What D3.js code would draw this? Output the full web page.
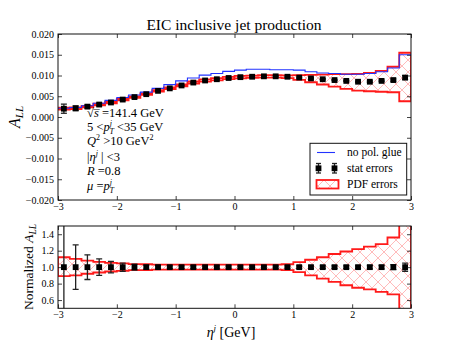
<!DOCTYPE html>
<html>
<head>
<meta charset="utf-8">
<script src="https://cdn.jsdelivr.net/npm/d3@7"></script>
<style>
  body { margin: 0; background: #fff; }
  text { font-family: "Liberation Serif", "DejaVu Serif", serif; fill: #000; }
</style>
</head>
<body>
<svg id="chart" width="457" height="343"></svg>
<script>
// bin centres of eta^j (bins of width 0.2)
const etaBins = [-2.9, -2.7, -2.5, -2.3, -2.1, -1.9, -1.7, -1.5, -1.3, -1.1,
                 -0.9, -0.7, -0.5, -0.3, -0.1, 0.1, 0.3, 0.5, 0.7, 0.9,
                 1.1, 1.3, 1.5, 1.7, 1.9, 2.1, 2.3, 2.5, 2.7, 2.9];
const binWidth = 0.2;

// A_LL central values (black squares)
const allCentral = [0.0020, 0.0021, 0.0025, 0.0030, 0.0035, 0.0042, 0.0048, 0.0055, 0.0063, 0.0069,
                    0.0076, 0.0083, 0.0088, 0.0091, 0.0094, 0.0096, 0.0097, 0.0098, 0.0098, 0.0097,
                    0.0095, 0.0093, 0.0091, 0.0089, 0.0087, 0.0085, 0.0085, 0.0087, 0.0089, 0.0095];

// "no pol. glue" curve
const allNoGlue = [0.0021, 0.0023, 0.0027, 0.0033, 0.0040, 0.0047, 0.0053, 0.0060, 0.0069, 0.0078,
                   0.0087, 0.0094, 0.0101, 0.0105, 0.0110, 0.0113, 0.0115, 0.0115, 0.0114, 0.0114,
                   0.0113, 0.0109, 0.0106, 0.0105, 0.0103, 0.0103, 0.0105, 0.0109, 0.0118, 0.0150];

// relative PDF error band (normalized panel: 1 + up, 1 - down)
const pdfUp   = [0.12, 0.10, 0.08, 0.065, 0.053, 0.045, 0.037, 0.035, 0.03, 0.03,
                 0.03, 0.03, 0.03, 0.03, 0.03, 0.03, 0.03, 0.03, 0.03, 0.035,
                 0.06, 0.09, 0.12, 0.16, 0.19, 0.22, 0.25, 0.28, 0.36, 0.63];
const pdfDown = [0.11, 0.10, 0.08, 0.065, 0.053, 0.045, 0.037, 0.035, 0.03, 0.03,
                 0.03, 0.03, 0.03, 0.03, 0.03, 0.03, 0.03, 0.03, 0.03, 0.035,
                 0.06, 0.10, 0.14, 0.18, 0.22, 0.25, 0.27, 0.30, 0.33, 0.60];

// relative statistical errors
const statErr = [0.55, 0.27, 0.15, 0.10, 0.07, 0.05, 0.035, 0.025, 0.02, 0.015,
                 0.015, 0.015, 0.015, 0.015, 0.015, 0.015, 0.015, 0.015, 0.015, 0.015,
                 0.015, 0.015, 0.015, 0.015, 0.015, 0.015, 0.02, 0.02, 0.03, 0.05];

const xTicks = [-3, -2, -1, 0, 1, 2, 3];
const yTicksTop = [-0.020, -0.015, -0.010, -0.005, 0.000, 0.005, 0.010, 0.015, 0.020];
const yTicksBottom = [0.6, 0.8, 1.0, 1.2, 1.4];

const svg = d3.select("#chart");
const left = 58, right = 411;
const top1 = 34, bot1 = 200;
const top2 = 226, bot2 = 308.3;

const x = d3.scaleLinear().domain([-3, 3]).range([left, right]);
const yTop = d3.scaleLinear().domain([-0.02, 0.02]).range([bot1, top1]);
const yBot = d3.scaleLinear().domain([0.5, 1.5]).range([bot2, top2]);

const red = "#ff1a1a", blue = "#2233ff", ink = "#111";

// hatch pattern ('x' hatch, light red)
const defs = svg.append("defs");
const pat = defs.append("pattern")
    .attr("id", "hatch")
    .attr("patternUnits", "userSpaceOnUse")
    .attr("width", 12).attr("height", 12);
pat.append("path")
    .attr("d", "M-1,-1 L13,13 M13,-1 L-1,13")
    .attr("stroke", "#ffaaaa").attr("stroke-width", 0.8).attr("fill", "none");

defs.append("clipPath").attr("id", "clipTop")
    .append("rect").attr("x", left).attr("y", top1).attr("width", right - left).attr("height", bot1 - top1);
defs.append("clipPath").attr("id", "clipBot")
    .append("rect").attr("x", left).attr("y", top2).attr("width", right - left).attr("height", bot2 - top2);

// step helpers
function stepPoints(vals) {
    const pts = [];
    etaBins.forEach((c, i) => {
        pts.push([c - binWidth / 2, vals[i]]);
        pts.push([c + binWidth / 2, vals[i]]);
    });
    return pts;
}

function drawPanel(g, yScale, upper, lower, clipId) {
    const gc = g.append("g").attr("clip-path", `url(#${clipId})`);
    const line = d3.line().x(d => x(d[0])).y(d => yScale(d[1]));
    const bandPts = stepPoints(upper).concat(stepPoints(lower).reverse());
    gc.append("path")
        .attr("d", line(bandPts) + "Z")
        .attr("fill", "url(#hatch)")
        .attr("stroke", red).attr("stroke-width", 1.8)
        .attr("stroke-linejoin", "miter");
    return gc;
}

function drawPoints(gc, yScale, vals, errs) {
    gc.selectAll(".err").data(etaBins).enter().append("g")
        .each(function (c, i) {
            const gg = d3.select(this);
            const lo = yScale(vals[i] - errs[i]), hi = yScale(vals[i] + errs[i]);
            gg.append("line").attr("x1", x(c)).attr("x2", x(c)).attr("y1", lo).attr("y2", hi)
                .attr("stroke", "#222").attr("stroke-width", 1.3);
            [lo, hi].forEach(yy => gg.append("line")
                .attr("x1", x(c) - 3).attr("x2", x(c) + 3).attr("y1", yy).attr("y2", yy)
                .attr("stroke", "#222").attr("stroke-width", 1.3));
        });
    gc.selectAll(".pt").data(etaBins).enter().append("rect")
        .attr("x", c => x(c) - 2.9).attr("width", 5.8)
        .attr("y", (c, i) => yScale(vals[i]) - 2.9).attr("height", 5.8)
        .attr("fill", "#000");
}

function drawAxes(g, yScale, yTicks, yFmt, yT, yB) {
    const ax = g.append("g");
    ax.append("g").attr("transform", `translate(0,${yB})`)
        .call(d3.axisBottom(x).tickValues(xTicks).tickSize(-4).tickPadding(3).tickFormat(d3.format("d")));
    ax.append("g").attr("transform", `translate(0,${yT})`)
        .call(d3.axisTop(x).tickValues(xTicks).tickSize(-4).tickFormat(""));
    ax.append("g").attr("transform", `translate(${left},0)`)
        .call(d3.axisLeft(yScale).tickValues(yTicks).tickSize(-4).tickPadding(4).tickFormat(yFmt));
    ax.append("g").attr("transform", `translate(${right},0)`)
        .call(d3.axisRight(yScale).tickValues(yTicks).tickSize(-4).tickFormat(""));
    ax.selectAll(".domain").remove();
    ax.selectAll(".tick line").attr("stroke", ink).attr("stroke-width", 0.8);
    ax.selectAll(".tick text").attr("font-size", 10).attr("font-family", "Liberation Serif, serif").attr("fill", "#000");
    g.append("rect").attr("x", left).attr("y", yT).attr("width", right - left).attr("height", yB - yT)
        .attr("fill", "none").attr("stroke", ink).attr("stroke-width", 1);
}

// ---- top panel
const gTop = svg.append("g");
const upTop = allCentral.map((v, i) => v * (1 + pdfUp[i]));
const loTop = allCentral.map((v, i) => v * (1 - pdfDown[i]));
const gcTop = drawPanel(gTop, yTop, upTop, loTop, "clipTop");
gcTop.append("path")
    .attr("d", d3.line().x(d => x(d[0])).y(d => yTop(d[1]))(stepPoints(allNoGlue)))
    .attr("fill", "none").attr("stroke", blue).attr("stroke-width", 1.1);
drawPoints(gcTop, yTop, allCentral, allCentral.map((v, i) => v * statErr[i]));
drawAxes(gTop, yTop, yTicksTop, d3.format(".3f"), top1, bot1);

// ---- bottom panel
const gBot = svg.append("g");
const ones = etaBins.map(() => 1);
const gcBot = drawPanel(gBot, yBot, pdfUp.map(u => 1 + u), pdfDown.map(d => 1 - d), "clipBot");
drawPoints(gcBot, yBot, ones, statErr);
drawAxes(gBot, yBot, yTicksBottom, d3.format(".1f"), top2, bot2);

// ---- title and labels
svg.append("text").attr("x", 234).attr("y", 30).attr("text-anchor", "middle")
    .attr("font-size", 15.5).text("EIC inclusive jet production");

const yl1 = svg.append("text").attr("transform", "translate(20,117) rotate(-90)")
    .attr("text-anchor", "middle").attr("font-size", 16);
yl1.append("tspan").attr("font-style", "italic").text("A");
yl1.append("tspan").attr("font-style", "italic").attr("font-size", 11).attr("dy", 3).text("LL");

const yl2 = svg.append("text").attr("transform", "translate(33,267) rotate(-90)")
    .attr("text-anchor", "middle").attr("font-size", 13.5);
yl2.append("tspan").text("Normalized ");
yl2.append("tspan").attr("font-style", "italic").text("A");
yl2.append("tspan").attr("font-style", "italic").attr("font-size", 9.5).attr("dy", 3).text("LL");

const xl = svg.append("text").attr("x", 231).attr("y", 337).attr("text-anchor", "middle").attr("font-size", 14);
xl.append("tspan").attr("font-style", "italic").text("η");
xl.append("tspan").attr("font-style", "italic").attr("font-size", 9).attr("dy", -6).text("j");
xl.append("tspan").attr("dy", 6).text("  [GeV]");

// ---- annotation block
const ax0 = 87, fs = 12.5;
const a1 = svg.append("text").attr("x", ax0).attr("y", 117).attr("font-size", fs);
a1.append("tspan").text("√");
a1.append("tspan").attr("font-style", "italic").text("s\u0305");
a1.append("tspan").text(" =141.4 GeV");

const a2 = svg.append("text").attr("x", ax0).attr("y", 130.5).attr("font-size", fs);
a2.append("tspan").text("5 <");
a2.append("tspan").attr("font-style", "italic").text("p");
a2.append("tspan").attr("font-style", "italic").attr("font-size", 8).attr("dy", -5).text("j");
a2.append("tspan").attr("font-style", "italic").attr("font-size", 8).attr("dx", -2.5).attr("dy", 8).text("T");
a2.append("tspan").attr("dy", -3).text(" <35 GeV");

const a3 = svg.append("text").attr("x", ax0).attr("y", 145).attr("font-size", fs);
a3.append("tspan").attr("font-style", "italic").text("Q");
a3.append("tspan").attr("font-size", 8).attr("dy", -5).text("2");
a3.append("tspan").attr("dy", 5).text("  >10 GeV");
a3.append("tspan").attr("font-size", 8).attr("dy", -5).text("2");

const a4 = svg.append("text").attr("x", ax0).attr("y", 161).attr("font-size", fs);
a4.append("tspan").text("|");
a4.append("tspan").attr("font-style", "italic").text("η");
a4.append("tspan").attr("font-style", "italic").attr("font-size", 8).attr("dy", -5).text("j");
a4.append("tspan").attr("dy", 5).text(" | <3");

const a5 = svg.append("text").attr("x", ax0).attr("y", 175).attr("font-size", fs);
a5.append("tspan").attr("font-style", "italic").text("R");
a5.append("tspan").text(" =0.8");

const a6 = svg.append("text").attr("x", ax0).attr("y", 189.5).attr("font-size", fs);
a6.append("tspan").attr("font-style", "italic").text("μ");
a6.append("tspan").text(" =");
a6.append("tspan").attr("font-style", "italic").text("p");
a6.append("tspan").attr("font-style", "italic").attr("font-size", 8).attr("dy", -5).text("j");
a6.append("tspan").attr("font-style", "italic").attr("font-size", 8).attr("dx", -2.5).attr("dy", 8).text("T");

// ---- legend
const lg = svg.append("g");
lg.append("rect").attr("x", 310).attr("y", 143.3).attr("width", 96.7).attr("height", 51.7)
    .attr("fill", "#fff").attr("stroke", ink).attr("stroke-width", 1);
lg.append("line").attr("x1", 317).attr("x2", 335).attr("y1", 152.5).attr("y2", 152.5)
    .attr("stroke", blue).attr("stroke-width", 1.1);
[318.5, 334.5].forEach(px => {
    lg.append("line").attr("x1", px).attr("x2", px).attr("y1", 163.5).attr("y2", 173)
        .attr("stroke", "#222").attr("stroke-width", 1.3);
    [163.5, 173].forEach(py => lg.append("line").attr("x1", px - 2.5).attr("x2", px + 2.5)
        .attr("y1", py).attr("y2", py).attr("stroke", "#222").attr("stroke-width", 1.3));
    lg.append("rect").attr("x", px - 2.9).attr("y", 168.3 - 2.9).attr("width", 5.8).attr("height", 5.8).attr("fill", "#000");
});
lg.append("rect").attr("x", 316.5).attr("y", 180).attr("width", 22).attr("height", 8.5)
    .attr("fill", "url(#hatch)").attr("stroke", red).attr("stroke-width", 1.8);
[["no pol. glue", 156], ["stat errors", 172], ["PDF errors", 188]].forEach(([t, yy]) =>
    lg.append("text").attr("x", 347).attr("y", yy).attr("font-size", 11.5).text(t));
</script>
</body>
</html>
